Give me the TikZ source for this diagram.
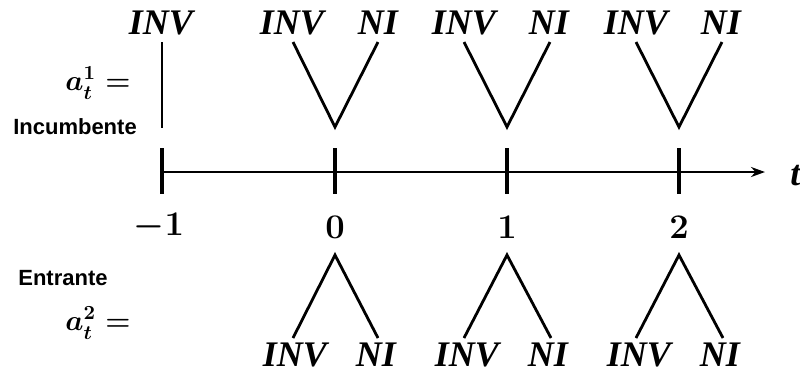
\documentclass[tikz,border=0pt]{standalone}
\usepackage{amsmath,amssymb}
\usepackage{fontspec}
\newfontfamily\sidefont{Liberation Sans}
\newfontfamily\actfont{Liberation Serif}
\usetikzlibrary{arrows.meta}
\tikzset{
  act/.style={font=\actfont\bfseries\itshape\fontsize{18}{20}\selectfont, inner sep=1pt},
  num/.style={font=\fontsize{16}{18}\selectfont\boldmath, inner sep=1pt},
  player/.style={font=\fontsize{14}{16}\selectfont\boldmath, inner sep=0pt},
  side/.style={font=\sidefont\bfseries\fontsize{11}{13}\selectfont, inner sep=1pt},
  branch/.style={line width=1.4pt},
  tickmark/.style={line width=1.6pt},
  axis/.style={line width=1.4pt, -{Stealth[length=7pt,width=5pt]}}
}

\begin{document}
\begin{tikzpicture}[x=0.5pt, y=-0.5pt]
  \useasboundingbox (0,0) rectangle (800,372);

  % Timeline
  \coordinate (tm1) at (162,172);
  \coordinate (t0) at (335,172);
  \coordinate (t1) at (507,172);
  \coordinate (t2) at (679,172);
  \coordinate (tend) at (765,172);
  \draw[axis] (tm1) -- (tend);
  \node[act, anchor=west] (tlab) at (788,176) {t};
  \draw[tickmark] (tm1) ++(0,-24) -- ++(0,46);
  \draw[tickmark] (t0) ++(0,-24) -- ++(0,46);
  \draw[tickmark] (t1) ++(0,-24) -- ++(0,46);
  \draw[tickmark] (t2) ++(0,-24) -- ++(0,46);
  \node[num] (nm1) at (159,227) {$-1$};
  \node[num] (n0) at (335,227) {$0$};
  \node[num] (n1) at (507,227) {$1$};
  \node[num] (n2) at (679,227) {$2$};

  % Incumbent (upper)
  \node[player] (a1) at (98,83) {$a_t^1 =$};
  \node[side] (inc) at (75,127) {Incumbente};
  \node[act] (uinvm1) at (161,23) {INV};
  \coordinate (um1top) at (162,42);
  \coordinate (um1bot) at (162,128);
  \draw[branch] (um1top) -- (um1bot);

  \node[act] (uinv0) at (292,23) {INV};
  \node[act] (uni0) at (378,23) {NI};
  \coordinate (ul0) at (293,42);
  \coordinate (ur0) at (378,42);
  \coordinate (uv0) at (335,127);
  \draw[branch] (ul0) -- (uv0) -- (ur0);

  \node[act] (uinv1) at (464,23) {INV};
  \node[act] (uni1) at (549,23) {NI};
  \coordinate (ul1) at (464,42);
  \coordinate (ur1) at (550,42);
  \coordinate (uv1) at (507,127);
  \draw[branch] (ul1) -- (uv1) -- (ur1);

  \node[act] (uinv2) at (636,23) {INV};
  \node[act] (uni2) at (721,23) {NI};
  \coordinate (ul2) at (636,42);
  \coordinate (ur2) at (722,42);
  \coordinate (uv2) at (679,127);
  \draw[branch] (ul2) -- (uv2) -- (ur2);

  % Entrant (lower)
  \node[side] (ent) at (63,278) {Entrante};
  \node[player] (a2) at (98,323) {$a_t^2 =$};

  \node[act] (linv0) at (295,355) {INV};
  \node[act] (lni0) at (376,355) {NI};
  \coordinate (ll0) at (293,338);
  \coordinate (lr0) at (378,338);
  \coordinate (lv0) at (335,255);
  \draw[branch] (ll0) -- (lv0) -- (lr0);

  \node[act] (linv1) at (467,355) {INV};
  \node[act] (lni1) at (548,355) {NI};
  \coordinate (ll1) at (464,338);
  \coordinate (lr1) at (551,338);
  \coordinate (lv1) at (507,255);
  \draw[branch] (ll1) -- (lv1) -- (lr1);

  \node[act] (linv2) at (639,355) {INV};
  \node[act] (lni2) at (720,355) {NI};
  \coordinate (ll2) at (636,338);
  \coordinate (lr2) at (723,338);
  \coordinate (lv2) at (679,255);
  \draw[branch] (ll2) -- (lv2) -- (lr2);
\end{tikzpicture}
\end{document}
